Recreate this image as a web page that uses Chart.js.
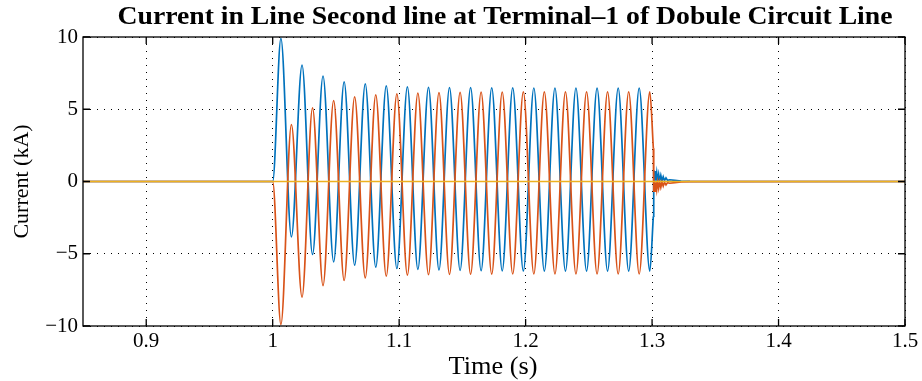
<!DOCTYPE html>
<html>
<head>
<meta charset="utf-8">
<script src="https://cdn.jsdelivr.net/npm/chart.js@4.4.1/dist/chart.umd.min.js"></script>
<style>
  html, body { margin: 0; padding: 0; background: #fff; }
</style>
</head>
<body>
<canvas id="current-chart" width="922" height="381"></canvas>
<script>
// tick labels
const xTicks = [0.9, 1, 1.1, 1.2, 1.3, 1.4, 1.5];
const yTicks = [-10, -5, 0, 5, 10];

// before the fault, all phases sit on zero
const preTimes = [0.85, 1.0];
const preValues = [0, 0];

// extrema of the fault current (s)
const faultTimes = [
  1.0065, 1.0148, 1.0232, 1.0315, 1.0398, 1.0482, 1.0565, 1.0648, 1.0732, 1.0815,
  1.0898, 1.0982, 1.1065, 1.1148, 1.1232, 1.1315, 1.1398, 1.1482, 1.1565, 1.1648,
  1.1732, 1.1815, 1.1898, 1.1982, 1.2065, 1.2148, 1.2232, 1.2315, 1.2398, 1.2482,
  1.2565, 1.2648, 1.2732, 1.2815, 1.2898, 1.2982, 1.3010
];
const blueFault = [
  9.9, -3.83, 8.05, -5.05, 7.3, -5.56, 6.9, -5.79, 6.75, -5.93,
  6.62, -6.02, 6.55, -6.08, 6.52, -6.12, 6.5, -6.15, 6.49, -6.17,
  6.48, -6.18, 6.48, -6.19, 6.47, -6.2, 6.47, -6.2, 6.47, -6.2,
  6.46, -6.2, 6.46, -6.2, 6.46, -6.2, -2.4
];
const orangeFault = [
  -9.9, 3.94, -8.0, 5.1, -7.2, 5.6, -6.85, 5.86, -6.67, 6.0,
  -6.55, 6.07, -6.48, 6.12, -6.45, 6.15, -6.43, 6.17, -6.42, 6.18,
  -6.41, 6.19, -6.4, 6.2, -6.4, 6.2, -6.4, 6.2, -6.4, 6.2,
  -6.4, 6.2, -6.4, 6.2, -6.4, 6.2, 2.3
];

// after the breaker opens: decaying ripple
const postTimes = [
  1.3010, 1.3013, 1.3018, 1.3024, 1.3030, 1.3037, 1.3044, 1.3052, 1.3060, 1.3069,
  1.3078, 1.3088, 1.3098, 1.3110, 1.3122, 1.3140, 1.3180, 1.3230, 1.3300, 1.5
];
const bluePost = [
  -2.4, 0.8, 0.05, 0.72, 0.05, 0.6, 0.05, 0.5, 0.05, 0.42,
  0.05, 0.33, 0.06, 0.25, 0.08, 0.12, 0.08, 0.03, 0.01, 0
];
const orangePost = [
  2.3, -0.72, -0.05, -0.66, -0.05, -0.56, -0.05, -0.47, -0.05, -0.4,
  -0.05, -0.32, -0.06, -0.24, -0.08, -0.12, -0.08, -0.03, -0.01, 0
];

// third phase stays on zero
const yellowTimes = [0.85, 1.5];
const yellowValues = [0, 0];

const titleText = 'Current in Line Second line at Terminal\u20131 of Dobule Circuit Line';
const xLabel = 'Time (s)';

const BLUE = '#0072BD', ORANGE = '#D95319', YELLOW = '#EDB120';
const SERIF = '"Liberation Serif", "Times New Roman", serif';

function pts(ts, vs) {
  return ts.map((t, i) => ({ x: t, y: vs[i] }));
}

function minusLabel(v) {
  return v < 0 ? '\u2212' + Math.abs(v) : String(v);
}

// fit a text to the width it has in the figure
function fitText(ctx, text, font, cx, baseline, width) {
  ctx.save();
  ctx.font = font;
  ctx.fillStyle = '#000';
  ctx.textAlign = 'center';
  ctx.textBaseline = 'alphabetic';
  const sx = width / ctx.measureText(text).width;
  ctx.translate(cx, baseline);
  ctx.scale(sx, 1);
  ctx.fillText(text, 0, 0);
  ctx.restore();
}

const boxPlugin = {
  id: 'box',
  afterDraw(chart) {
    const { ctx, chartArea: a, scales: { x, y } } = chart;
    ctx.save();
    ctx.strokeStyle = '#000';
    ctx.lineWidth = 1.3;
    ctx.strokeRect(a.left, a.top, a.right - a.left, a.bottom - a.top);
    ctx.beginPath();
    x.ticks.forEach(t => {
      const px = x.getPixelForValue(t.value);
      ctx.moveTo(px, a.bottom); ctx.lineTo(px, a.bottom - 7);
      ctx.moveTo(px, a.top); ctx.lineTo(px, a.top + 7);
    });
    y.ticks.forEach(t => {
      const py = y.getPixelForValue(t.value);
      ctx.moveTo(a.left, py); ctx.lineTo(a.left + 7, py);
      ctx.moveTo(a.right, py); ctx.lineTo(a.right - 7, py);
    });
    ctx.stroke();
    ctx.restore();

    const mid = (a.left + a.right) / 2;
    fitText(ctx, titleText, 'bold 26px ' + SERIF, mid + 11, 24, 775);
    fitText(ctx, xLabel, '25px ' + SERIF, mid - 1, 374, 89);
  }
};

const lineDefaults = {
  borderWidth: 1.7,
  pointRadius: 0,
  fill: false,
  cubicInterpolationMode: 'monotone'
};

const config = {
  type: 'line',
  data: {
    datasets: [
      Object.assign({}, lineDefaults, { data: pts(yellowTimes, yellowValues), borderColor: YELLOW, order: 1 }),
      Object.assign({}, lineDefaults, { data: pts(preTimes, preValues).concat(pts(faultTimes, orangeFault)), borderColor: ORANGE, order: 2 }),
      Object.assign({}, lineDefaults, { data: pts(postTimes, orangePost), borderColor: ORANGE, order: 2, cubicInterpolationMode: 'default', tension: 0 }),
      Object.assign({}, lineDefaults, { data: pts(preTimes, preValues).concat(pts(faultTimes, blueFault)), borderColor: BLUE, order: 3 }),
      Object.assign({}, lineDefaults, { data: pts(postTimes, bluePost), borderColor: BLUE, order: 3, cubicInterpolationMode: 'default', tension: 0 })
    ]
  },
  options: {
    responsive: false,
    animation: false,
    events: [],
    layout: { padding: { left: 0, right: 17, top: 37, bottom: 0 } },
    plugins: {
      legend: { display: false },
      tooltip: { enabled: false },
      title: { display: false }
    },
    scales: {
      x: {
        type: 'linear',
        min: 0.85,
        max: 1.5,
        afterBuildTicks: s => { s.ticks = xTicks.map(v => ({ value: v })); },
        afterFit: s => { s.height = 55; },
        ticks: {
          callback: v => String(v),
          color: '#000',
          font: { family: SERIF, size: 21 },
          padding: 3,
          maxRotation: 0,
          autoSkip: false
        },
        grid: { color: '#000', lineWidth: 1, drawTicks: false },
        border: { display: false, dash: [1, 6] }
      },
      y: {
        type: 'linear',
        min: -10,
        max: 10,
        afterBuildTicks: s => { s.ticks = yTicks.map(v => ({ value: v })); },
        afterFit: s => { s.width = 83; },
        ticks: {
          callback: v => minusLabel(v),
          color: '#000',
          font: { family: SERIF, size: 21 },
          padding: 5
        },
        grid: { color: '#000', lineWidth: 1, drawTicks: false },
        border: { display: false, dash: [1, 6] },
        title: {
          display: true,
          text: 'Current (kA)',
          color: '#000',
          font: { family: SERIF, size: 22 },
          padding: { top: 9, bottom: 0 }
        }
      }
    }
  },
  plugins: [boxPlugin]
};

new Chart(document.getElementById('current-chart'), config);
</script>
</body>
</html>
